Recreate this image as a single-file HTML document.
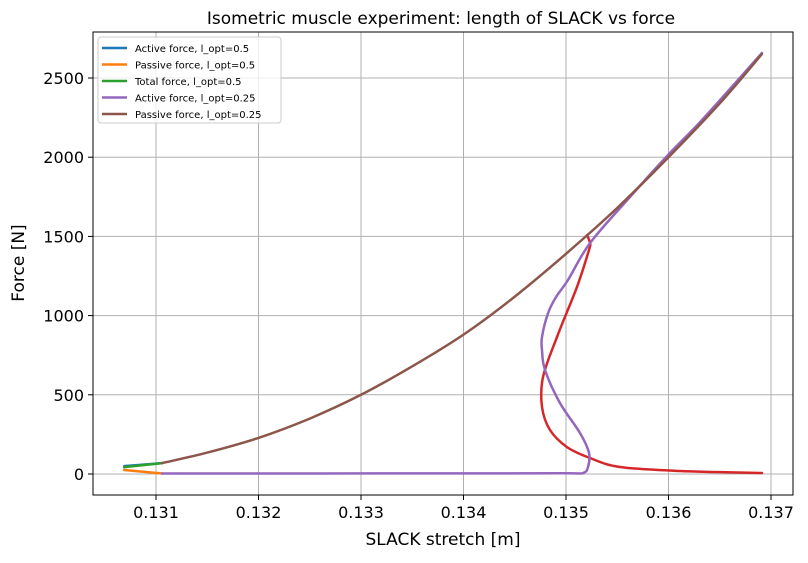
<!DOCTYPE html>
<html><head><meta charset="utf-8"><style>
body{margin:0;background:#fff;}
svg text{font-family:"DejaVu Sans","Liberation Sans",sans-serif;fill:#000;}
</style></head><body>
<svg id="chart" width="808" height="558" xmlns="http://www.w3.org/2000/svg">
<text x="441" y="24" text-anchor="middle" font-size="17">Isometric muscle experiment: length of SLACK vs force</text>
<g id="grid"></g>
<g id="series"></g>
<rect x="93" y="32" width="700" height="463" fill="none" stroke="#000" stroke-width="1"/>
<g id="ticks"></g>
<text x="443" y="545" text-anchor="middle" font-size="17">SLACK stretch [m]</text>
<text transform="translate(24,263) rotate(-90)" text-anchor="middle" font-size="17">Force [N]</text>
<g id="legend">
<rect x="98" y="37" width="183" height="86" rx="3" fill="#fff" fill-opacity="0.8" stroke="#ccc"/>
</g>
</svg>
<script>
const xTicks=[0.131,0.132,0.133,0.134,0.135,0.136,0.137];
const yTicks=[0,500,1000,1500,2000,2500];
const activeX05=[0.13069,0.13106];const activeY05=[50,69];
const passiveX05=[0.13069,0.13106];const passiveY05=[25,3];
const totalX05=[0.13069,0.13106];const totalY05=[43,69];
const passiveX025=[0.13106,0.1315,0.132,0.1325,0.133,0.1335,0.134,0.1345,0.135,0.1355,0.136,0.1365,0.13691];
const passiveY025=[69,135,228,350,500,680,880,1120,1390,1680,2000,2340,2650];
const activeX025=[0.131059,0.134,0.1350,0.135166,0.135215,0.135224,0.135137,0.134941,0.134795,0.134766,0.134766,0.134825,0.134905,0.13502,0.135234,0.135624,0.135995,0.136327,0.136912];
const activeY025=[3,4,5,6,44,133,259,448,657,783,865,1016,1120,1225,1458,1749,2014,2235,2658];
const totalX025=[0.136912,0.136112,0.135527,0.135234,0.13501,0.134844,0.134766,0.134776,0.134912,0.135107,0.135224,0.135234,0.135205];
const totalY025=[6,19,44,101,170,278,423,612,865,1181,1414,1458,1509];
const X=v=>156+(v-0.131)*102500;
const Y=v=>474-v*79.2/500;
const NS="http://www.w3.org/2000/svg";
const grid=document.getElementById('grid'),ticks=document.getElementById('ticks'),ser=document.getElementById('series');
function mk(t,a,p){const e=document.createElementNS(NS,t);for(const k in a)e.setAttribute(k,a[k]);p.appendChild(e);return e;}
xTicks.forEach(v=>{
 const g=mk('line',{x1:X(v),x2:X(v),y1:32,y2:495,stroke:'#b0b0b0','stroke-width':1},grid);
 
 
 const t=mk('line',{x1:X(v),x2:X(v),y1:495,y2:500,stroke:'#000'},ticks);
 
 
 const l=mk('text',{x:X(v),y:518,'text-anchor':'middle','font-size':16},ticks);l.textContent=v.toFixed(3);
 
 
});
yTicks.forEach(v=>{
 const g=mk('line',{x1:93,x2:793,y1:Y(v),y2:Y(v),stroke:'#b0b0b0','stroke-width':1},grid);
 
 
 const t=mk('line',{x1:88,x2:93,y1:Y(v),y2:Y(v),stroke:'#000'},ticks);
 
 
 const l=mk('text',{x:84,y:Y(v)+6,'text-anchor':'end','font-size':16},ticks);l.textContent=v;
 
 
});
function line(xs,ys,c,name){
 const P=xs.map((x,i)=>[X(x),Y(ys[i])]);
 let d='M'+P[0][0].toFixed(1)+','+P[0][1].toFixed(1);
 for(let i=0;i<P.length-1;i++){
  const p0=P[i-1]||P[i],p1=P[i],p2=P[i+1],p3=P[i+2]||P[i+1];
  const c1=[p1[0]+(p2[0]-p0[0])/6,p1[1]+(p2[1]-p0[1])/6];
  const c2=[p2[0]-(p3[0]-p1[0])/6,p2[1]-(p3[1]-p1[1])/6];
  d+=' C'+c1.map(v=>v.toFixed(1)).join(',')+' '+c2.map(v=>v.toFixed(1)).join(',')+' '+p2.map(v=>v.toFixed(1)).join(',');
 }
 const p=mk('path',{d:d,fill:'none',stroke:c,'stroke-width':2.5,'stroke-linejoin':'round','stroke-linecap':'round'},ser);
 
 
}
line(activeX05,activeY05,'#1f77b4','active-force-0.5');
line(passiveX05,passiveY05,'#ff7f0e','passive-force-0.5');
line(totalX05,totalY05,'#2ca02c','total-force-0.5');
line(totalX025,totalY025,'#d62728','total-force-0.25');
line(activeX025,activeY025,'#9467bd','active-force-0.25');
line(passiveX025,passiveY025,'#8c564b','passive-force-0.25');
const leg=document.getElementById('legend');
[['Active force, l_opt=0.5','#1f77b4'],['Passive force, l_opt=0.5','#ff7f0e'],['Total force, l_opt=0.5','#2ca02c'],['Active force, l_opt=0.25','#9467bd'],['Passive force, l_opt=0.25','#8c564b']].forEach((e,i)=>{
 const y=48+i*16.5;
 const s=mk('line',{x1:102,x2:127,y1:y,y2:y,stroke:e[1],'stroke-width':2.5},leg);
 
 
 const t=mk('text',{x:135,y:y+4,'font-size':10},leg);t.textContent=e[0];
 
 
});
</script>
</body></html>
